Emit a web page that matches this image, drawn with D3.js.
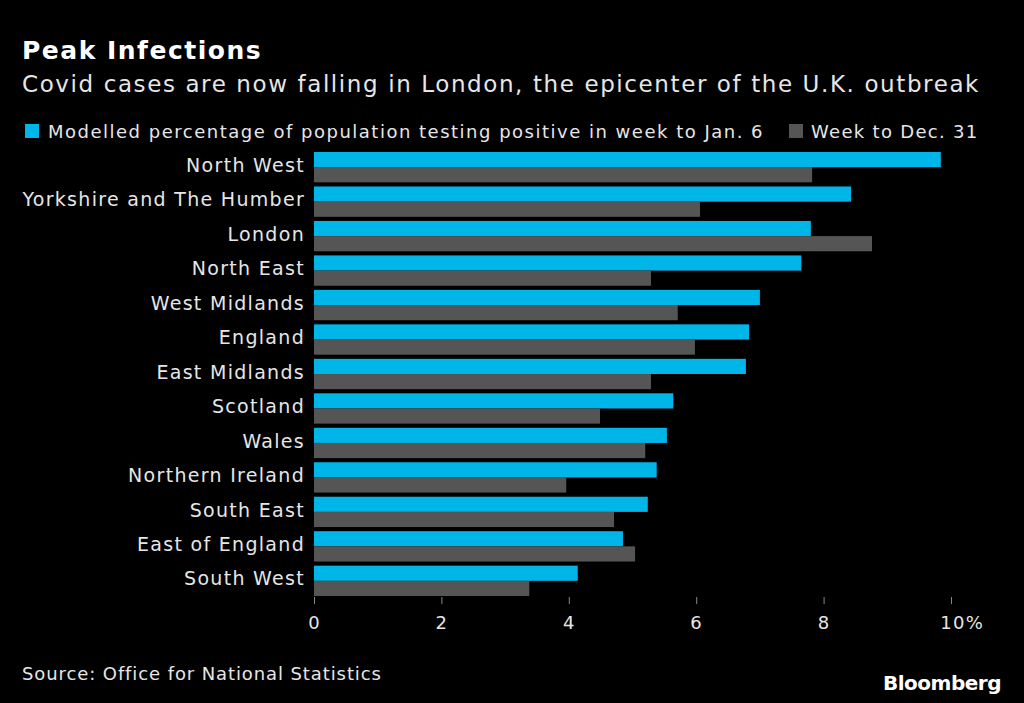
<!DOCTYPE html>
<html><head><meta charset="utf-8">
<script src="https://cdn.jsdelivr.net/npm/d3@7"></script>
<style>
body{margin:0;background:#000;}
text{font-family:"DejaVu Sans",sans-serif;}
</style></head>
<body><svg id="c" width="1024" height="703"></svg>
<script>
var regions = ["North West","Yorkshire and The Humber","London","North East","West Midlands","England","East Midlands","Scotland","Wales","Northern Ireland","South East","East of England","South West"];
var jan6 = [9.84,8.43,7.80,7.65,7.00,6.83,6.78,5.64,5.54,5.38,5.24,4.85,4.14];
var dec31 = [7.82,6.06,8.76,5.29,5.71,5.98,5.29,4.49,5.20,3.96,4.71,5.04,3.38];
var ticks = [0,2,4,6,8,10];

var txt = "#e6e6e6";
var svg = d3.select("#c");
svg.append("rect").attr("width",1024).attr("height",703).attr("fill","#000");

svg.append("text").attr("x",22).attr("y",59).attr("fill","#fff")
  .attr("font-size",25).attr("font-weight","bold").attr("letter-spacing",1.5).text("Peak Infections");
svg.append("text").attr("x",22).attr("y",92).attr("fill",txt)
  .attr("font-size",23).attr("letter-spacing",1.6).text("Covid cases are now falling in London, the epicenter of the U.K. outbreak");

// legend
svg.append("rect").attr("x",25).attr("y",124).attr("width",14).attr("height",14).attr("fill","#00b6e8");
svg.append("text").attr("x",48).attr("y",138).attr("fill",txt).attr("font-size",18).attr("letter-spacing",1.5)
  .text("Modelled percentage of population testing positive in week to Jan. 6");
svg.append("rect").attr("x",789).attr("y",124).attr("width",14).attr("height",14).attr("fill","#555");
svg.append("text").attr("x",811).attr("y",138).attr("fill",txt).attr("font-size",18).attr("letter-spacing",1.3)
  .text("Week to Dec. 31");

var x = d3.scaleLinear().domain([0,10]).range([314,951]);
var y = d3.scaleBand().domain(regions).range([152,596]).paddingInner(0.12).paddingOuter(0);

var g = svg.append("g");
regions.forEach(function(r,i){
  var y0 = y(r), h = y.bandwidth()/2;
  g.append("rect").attr("x",x(0)).attr("y",y0).attr("width",x(jan6[i])-x(0)).attr("height",h).attr("fill","#00b6e8");
  g.append("rect").attr("x",x(0)).attr("y",y0+h).attr("width",x(dec31[i])-x(0)).attr("height",h).attr("fill","#555");
  g.append("text").attr("x",305).attr("y",y0+h-2).attr("dy","0.35em").attr("text-anchor","end")
    .attr("fill",txt).attr("font-size",19).attr("letter-spacing",1.3).text(r);
});

var ax = svg.append("g").attr("transform","translate(0,597)")
  .call(d3.axisBottom(x).tickValues(ticks).tickSize(7).tickFormat(function(d){return d==10?"10%":d;}));
ax.select(".domain").remove();
ax.selectAll("line").attr("stroke","#888");
ax.selectAll("text").attr("fill",txt).attr("font-size",18).attr("dy","1.2em").attr("letter-spacing",1.3)
  .style("font-family","DejaVu Sans, sans-serif");
ax.selectAll(".tick").filter(function(d){return d==10;}).select("text").attr("dx","0.6em");

svg.append("text").attr("x",22).attr("y",680).attr("fill",txt).attr("font-size",18).attr("letter-spacing",0.9)
  .text("Source: Office for National Statistics");
svg.append("text").attr("x",1001).attr("y",690).attr("text-anchor","end").attr("fill","#fff")
  .attr("font-size",20).attr("font-weight","bold").attr("letter-spacing","-0.5").text("Bloomberg");
</script></body></html>
